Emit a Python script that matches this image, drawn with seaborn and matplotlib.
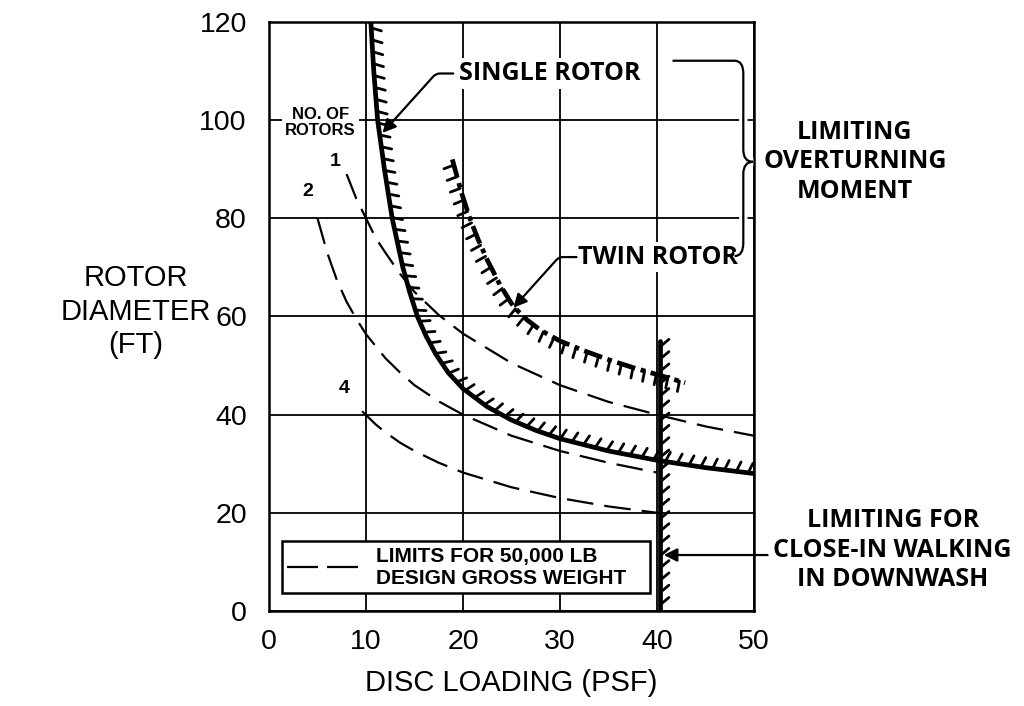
import numpy as np
import pandas as pd
import seaborn as sns
import matplotlib.pyplot as plt
from matplotlib import patheffects as pe
from matplotlib.lines import Line2D
from matplotlib.path import Path
from matplotlib.patches import PathPatch

# --- values ---
single_x = [10.5, 10.8, 11.2, 11.9, 12.7, 13.8, 14.5, 15.3, 16.2, 17.2, 18.5, 20,
            22.5, 25, 27.5, 30, 35, 40, 45, 50]
single_y = [120, 110, 100, 90, 80, 70, 65, 60, 56, 52.3, 48.5, 45.3,
            41.6, 38.9, 36.8, 35.1, 32.6, 30.7, 29.2, 28.0]

twin_x = [18.9, 19.8, 20.7, 21.6, 22.5, 23.8, 25.2, 26.6, 28, 30, 32.5, 35, 37.5, 40.3, 42.9]
twin_y = [92, 85.5, 80, 75.5, 71.5, 66.5, 62, 59.3, 57.2, 55, 53, 51.2, 49.6, 48, 46.5]

walk_x = [40.3, 40.3]
walk_y = [0, 55]

one_x = [8, 9, 10, 11, 12, 13.5, 15, 17.5, 20, 25, 30, 35, 40, 45, 50]
one_y = [89, 84, 80, 76, 73, 68.7, 65, 60.3, 56.5, 50.5, 46, 42.6, 40, 37.6, 35.7]
two_x = [5, 6, 7, 8, 9, 10, 12, 13.5, 15, 17.5, 20, 25, 30, 35, 40]
two_y = [80, 73, 67.4, 63, 59.5, 56.4, 51.5, 48.6, 46, 42.7, 40, 35.7, 32.6, 30.2, 28.2]
four_x = [9.6, 11, 12, 13.5, 15, 17.5, 20, 25, 30, 35, 40]
four_y = [40.7, 38, 36.4, 34.3, 32.6, 30.2, 28.2, 25.2, 23, 21.3, 20]

x_ticks = [0, 10, 20, 30, 40, 50]
y_ticks = [0, 20, 40, 60, 80, 100, 120]

sns.set_theme(style="white")
plt.rcParams['font.family'] = ['Liberation Sans', 'DejaVu Sans']

fig = plt.figure(figsize=(10.24, 7.06), dpi=100)
ax = fig.add_axes([0.2627, 0.1346, 0.4736, 0.8343])

dash = (0, (12, 5))
rotors = pd.concat([
    pd.DataFrame({'x': one_x, 'y': one_y, 'n': 1}),
    pd.DataFrame({'x': two_x, 'y': two_y, 'n': 2}),
    pd.DataFrame({'x': four_x, 'y': four_y, 'n': 4}),
])
for n, grp in rotors.groupby('n'):
    sns.lineplot(data=grp, x='x', y='y', ax=ax, color='black', lw=1.6,
                 linestyle=dash, estimator=None, sort=False)

# single rotor limit (solid, hatched on upper side)
sns.lineplot(x=single_x, y=single_y, ax=ax, color='black', lw=3.4,
             estimator=None, sort=False)
ax.plot(single_x, single_y, color='black', lw=2.0,
        path_effects=[pe.TickedStroke(spacing=8.5, angle=70, length=0.9)])

# twin rotor limit (dash-dot, hatched underneath)
sns.lineplot(x=twin_x, y=twin_y, ax=ax, color='black', lw=3.4,
             linestyle=(0, (4, 1.2, 1, 1.2)), estimator=None, sort=False)
ax.plot(twin_x, twin_y, color='black', lw=2.0,
        path_effects=[pe.TickedStroke(spacing=8.5, angle=-85, length=0.9)])

# downwash limit (vertical, hatched on the right)
ax.plot(walk_x, walk_y, color='black', lw=3.4)
ax.plot(walk_x, walk_y, color='black', lw=2.0,
        path_effects=[pe.TickedStroke(spacing=8.5, angle=-50, length=1.0)])

ax.set_xlim(0, 50)
ax.set_ylim(0, 120)
ax.set_xticks(x_ticks)
ax.set_yticks(y_ticks)
ax.tick_params(axis='both', length=0, labelsize=20.5, colors='black')
ax.tick_params(axis='y', pad=16)
ax.tick_params(axis='x', pad=13)
ax.grid(True, color='black', lw=1.3)
ax.set_axisbelow(True)
for s in ax.spines.values():
    s.set_color('black')
    s.set_linewidth(1.8)

ax.set_xlabel('DISC LOADING (PSF)', fontsize=21, color='black', va='center')
ax.xaxis.set_label_coords(0.5, -0.122)
ax.set_ylabel('ROTOR\nDIAMETER\n(FT)', fontsize=21, color='black', rotation=0,
              ha='center', va='center', linespacing=1.25)
ax.yaxis.set_label_coords(-0.274, 0.508)

# annotations
ann_font = dict(family=['Open Sans', 'DejaVu Sans'], weight='bold', fontsize=18, color='black')
hel_font = dict(family=['Liberation Sans', 'DejaVu Sans'], weight='bold', color='black')
white = dict(facecolor='white', edgecolor='none', pad=2)
arrow = dict(arrowstyle='-|>', color='black', lw=1.6, mutation_scale=20, shrinkA=0, shrinkB=0)

ax.text(19.6, 109.5, 'SINGLE ROTOR', ha='left', va='center', bbox=white, **ann_font)
ax.annotate('', xy=(11.7, 97.4), xytext=(19.0, 109.5),
            arrowprops=dict(arrow, connectionstyle='angle,angleA=0,angleB=48,rad=4'))

ax.text(31.9, 72.1, 'TWIN ROTOR', ha='left', va='center', bbox=white, **ann_font)
ax.annotate('', xy=(25.2, 61.8), xytext=(31.7, 72.1),
            arrowprops=dict(arrow, connectionstyle='angle,angleA=0,angleB=48,rad=4'))

brace = Path(
    [(41.6, 112.1), (48.0, 112.1), (48.9, 112.1), (48.9, 109.5), (48.9, 94.0),
     (48.9, 91.5), (49.9, 91.5), (48.9, 91.5), (48.9, 89.0), (48.9, 75.0),
     (48.9, 72.3), (48.0, 72.3)],
    [Path.MOVETO, Path.LINETO, Path.CURVE3, Path.CURVE3, Path.LINETO,
     Path.CURVE3, Path.CURVE3, Path.CURVE3, Path.CURVE3, Path.LINETO,
     Path.CURVE3, Path.CURVE3])
ax.add_patch(PathPatch(brace, facecolor='none', edgecolor='black', lw=1.6,
                       clip_on=False, zorder=4,
                       path_effects=[pe.Stroke(linewidth=6, foreground='white'), pe.Normal()]))

ax.text(60.4, 91.5, 'LIMITING\nOVERTURNING\nMOMENT', ha='center', va='center',
        multialignment='center', linespacing=1.25, **ann_font)
ax.text(64.3, 12.4, 'LIMITING FOR\nCLOSE-IN WALKING\nIN DOWNWASH', ha='center', va='center',
        multialignment='center', linespacing=1.25, **ann_font)
ax.annotate('', xy=(40.7, 11.4), xytext=(51.4, 11.4), annotation_clip=False,
            arrowprops=arrow)

ax.text(5.3, 99.5, 'NO. OF\nROTORS', ha='center', va='center', multialignment='center',
        linespacing=1.15, fontsize=12, bbox=white, **hel_font)
ax.text(6.8, 91.5, '1', ha='center', va='center', fontsize=14, **hel_font)
ax.text(4.0, 85.4, '2', ha='center', va='center', fontsize=14, **hel_font)
ax.text(7.8, 45.4, '4', ha='center', va='center', fontsize=14, **hel_font)

handle = Line2D([], [], color='black', lw=1.6, linestyle=(0, (14, 4)))
leg = ax.legend([handle], ['LIMITS FOR 50,000 LB\nDESIGN GROSS WEIGHT'],
                loc='lower left', bbox_to_anchor=(0.026, 0.031, 0.76, 0.10), mode='expand',
                frameon=True, fancybox=False, framealpha=1, edgecolor='black',
                prop=dict(family='Liberation Sans', weight='bold', size=15),
                handlelength=3.7, handletextpad=0.6, borderpad=0.25, borderaxespad=0)
leg.get_frame().set_linewidth(1.8)
for t in leg.get_texts():
    t.set_color('black')

fig.savefig('out.png', dpi=100, facecolor='white')
